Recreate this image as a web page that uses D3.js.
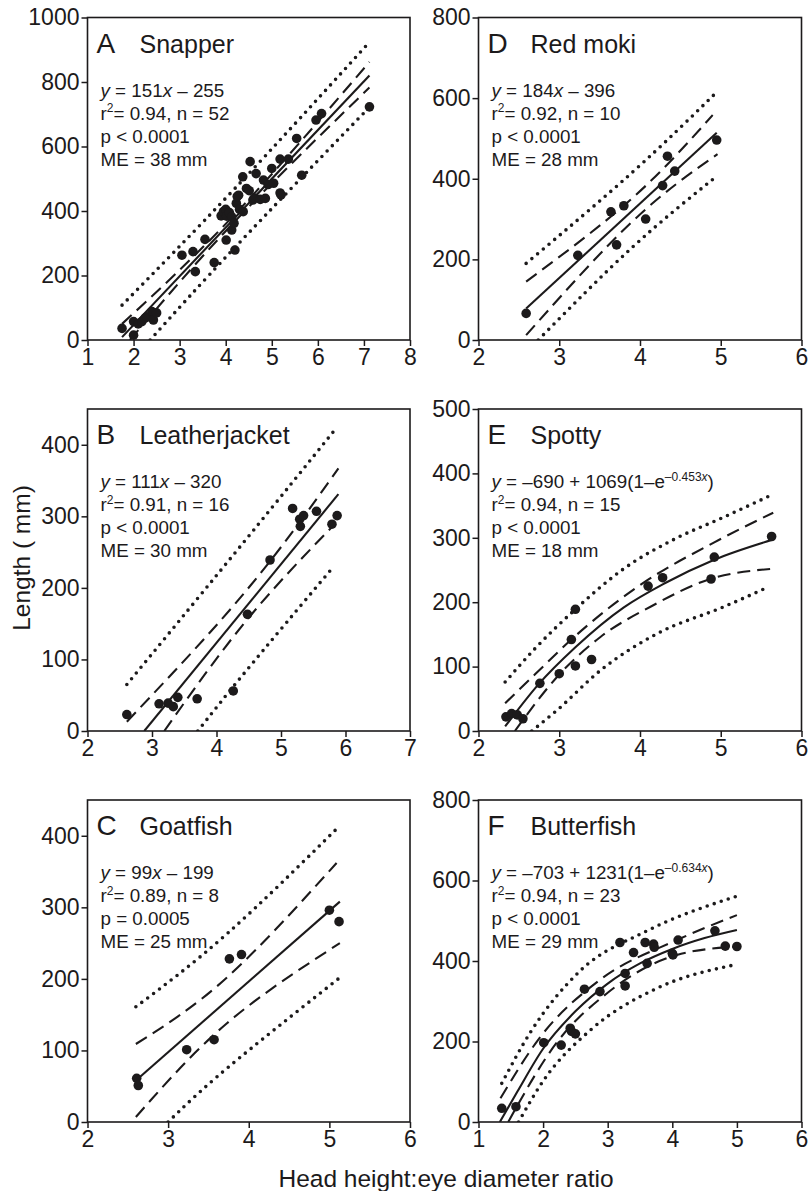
<!DOCTYPE html>
<html>
<head>
<meta charset="utf-8">
<script src="https://cdn.jsdelivr.net/npm/d3@7"></script>
<style>
  html, body { margin: 0; padding: 0; background: #fff; }
  svg { display: block; font-family: "Liberation Sans", Arial, Helvetica, sans-serif; }
</style>
</head>
<body>
<svg id="chart" width="809" height="1191"></svg>
<script>
// ---------------- DATA ----------------
// Panel A – Snapper
const pointsA = [[1.75,36],[2.0,57],[2.0,15],[2.1,50],[2.18,57],[2.25,68],[2.29,72],[2.40,88],[2.43,62],[2.50,84],
  [3.05,263],[3.29,274],[3.34,212],[3.55,312],[3.75,240],[3.9,385],[3.95,398],[4.0,405],[4.02,384],[4.01,310],
  [4.08,395],[4.13,382],[4.13,341],[4.18,362],[4.2,279],[4.23,424],[4.25,445],[4.28,449],[4.30,405],[4.37,506],
  [4.38,398],[4.45,470],[4.51,463],[4.53,553],[4.59,434],[4.62,440],[4.66,516],[4.75,436],[4.82,496],[4.86,439],
  [4.92,482],[5.0,532],[5.04,486],[5.18,456],[5.2,450],[5.18,561],[5.36,561],[5.54,625],[5.65,511],[5.96,682],
  [6.08,702],[7.12,723]];
const fitA     = [[1.75,9],[7.12,820]];
const ciUpperA = [[1.75,50],[4.2,390],[7.12,862]];
const ciLowerA = [[1.92,0],[4.2,368],[7.12,783]];
const piUpperA = [[1.75,108],[4.2,470],[7.13,925]];
const piLowerA = [[2.36,0],[4.2,287],[7.06,713]];
const xTicksA = [1,2,3,4,5,6,7,8];
const yTicksA = [0,200,400,600,800,1000];
const eqA = [["y","i"],[" = 151",""],["x","i"],[" – 255",""]];
const statsA = ["r²= 0.94, n = 52","p < 0.0001","ME = 38 mm"];

// Panel B – Leatherjacket
const pointsB = [[2.61,23],[3.11,38],[3.25,39],[3.33,34],[3.40,47],[3.70,45],[4.26,56],[4.48,163],[4.83,239],
  [5.18,311],[5.29,296],[5.30,286],[5.35,301],[5.55,307],[5.79,289],[5.87,301]];
const fitB     = [[2.88,0],[5.89,331]];
const ciUpperB = [[2.61,13],[4.46,196],[5.89,367]];
const ciLowerB = [[3.19,0],[4.46,154],[5.81,287]];
const piUpperB = [[2.61,65],[4.46,268],[5.81,418]];
const piLowerB = [[3.71,0],[4.46,84],[5.79,227]];
const xTicksB = [2,3,4,5,6,7];
const yTicksB = [0,100,200,300,400];
const eqB = [["y","i"],[" = 111",""],["x","i"],[" – 320",""]];
const statsB = ["r²= 0.91, n = 16","p < 0.0001","ME = 30 mm"];

// Panel C – Goatfish
const pointsC = [[2.61,61],[2.63,51],[3.23,101],[3.57,115],[3.76,228],[3.91,234],[5.00,296],[5.12,280]];
const fitC     = [[2.60,58],[5.13,308]];
const ciUpperC = [[2.60,109],[3.73,202],[5.09,362]];
const ciLowerC = [[2.60,7],[3.73,138],[5.13,250]];
const piUpperC = [[2.60,161],[3.73,263],[5.12,413]];
const piLowerC = [[3.0,0],[3.73,75],[5.11,200]];
const xTicksC = [2,3,4,5,6];
const yTicksC = [0,100,200,300,400];
const eqC = [["y","i"],[" = 99",""],["x","i"],[" – 199",""]];
const statsC = ["r²= 0.89, n = 8","p = 0.0005","ME = 25 mm"];

// Panel D – Red moki
const pointsD = [[2.59,66],[3.23,210],[3.64,318],[3.71,236],[3.80,333],[4.07,300],[4.28,383],[4.34,456],[4.43,419],[4.95,496]];
const fitD     = [[2.59,78],[4.95,514]];
const ciUpperD = [[2.59,145],[3.9,351],[4.90,558]];
const ciLowerD = [[2.59,12],[3.9,293],[4.96,461]];
const piUpperD = [[2.59,190],[3.9,415],[4.94,613]];
const piLowerD = [[2.74,0],[3.9,229],[4.93,403]];
const xTicksD = [2,3,4,5,6];
const yTicksD = [0,200,400,600,800];
const eqD = [["y","i"],[" = 184",""],["x","i"],[" – 396",""]];
const statsD = ["r²= 0.92, n = 10","p < 0.0001","ME = 28 mm"];

// Panel E – Spotty
const pointsE = [[2.34,22],[2.41,27],[2.48,25],[2.55,19],[2.76,74],[3.00,89],[3.15,142],[3.20,101],[3.20,189],
  [3.40,111],[4.10,225],[4.28,238],[4.88,236],[4.92,270],[5.63,302]];
const fitE     = [[2.33,7],[2.74,72],[3.2,130],[3.8,192],[4.3,229],[4.92,266],[5.64,297]];
const ciUpperE = [[2.33,43],[2.7,88],[3.15,142],[3.97,224],[4.92,293],[5.65,339]];
const ciLowerE = [[2.45,0],[3.01,89],[3.51,146],[4.13,193],[4.87,236],[5.64,252]];
const piUpperE = [[2.33,76],[2.7,128],[3.2,189],[3.8,252],[4.46,300],[5.0,330],[5.62,366]];
const piLowerE = [[2.66,0],[2.97,32],[3.51,94],[4.21,151],[5.04,193],[5.58,223]];
const xTicksE = [2,3,4,5,6];
const yTicksE = [0,100,200,300,400,500];
const eqE = [["y","i"],[" = –690 + 1069(1–e",""],["–0.453","sup"],["x","supi"],[")",""]];
const statsE = ["r²= 0.94, n = 15","p < 0.0001","ME = 18 mm"];

// Panel F – Butterfish
const pointsF = [[1.36,34],[1.58,38],[2.01,197],[2.28,191],[2.42,233],[2.44,225],[2.50,219],[2.64,330],[2.88,324],
  [3.19,446],[3.27,369],[3.27,338],[3.40,421],[3.58,446],[3.61,394],[3.71,442],[3.72,434],[4.00,419],
  [4.01,415],[4.09,452],[4.66,475],[4.82,437],[5.00,436]];
const fitF     = [[1.33,0],[1.6,75],[2.0,182],[2.5,275],[3.0,344],[3.5,394],[4.0,430],[4.5,457],[5.0,477]];
const ciUpperF = [[1.34,59],[1.96,212],[2.88,353],[4.07,452],[5.0,514]];
const ciLowerF = [[1.46,0],[2.21,197],[2.99,320],[4.07,415],[5.0,436]];
const piUpperF = [[1.36,96],[1.8,222],[2.57,375],[3.61,475],[5.0,561]];
const piLowerF = [[1.62,0],[2.01,104],[2.73,228],[3.76,332],[4.95,390]];
const xTicksF = [1,2,3,4,5,6];
const yTicksF = [0,200,400,600,800];
const eqF = [["y","i"],[" = –703 + 1231(1–e",""],["–0.634","sup"],["x","supi"],[")",""]];
const statsF = ["r²= 0.94, n = 23","p < 0.0001","ME = 29 mm"];

const xTitle = "Head height:eye diameter ratio";
const yTitle = "Length ( mm)";

// ---------------- LAYOUT ----------------
const colX = [[87.5, 410], [478.5, 801.5]];
const rowY = [[17.5, 340], [409, 731], [800, 1122]];
const ink = "#1c1a1b";

const panels = [
  {L:"A", name:"Snapper", c:0, r:0, xd:[1,8], yd:[0,1000], xt:xTicksA, yt:yTicksA, pts:pointsA, fit:fitA, ciU:ciUpperA, ciL:ciLowerA, piU:piUpperA, piL:piLowerA, eq:eqA, st:statsA, curve:false},
  {L:"B", name:"Leatherjacket", c:0, r:1, xd:[2,7], yd:[0,450], xt:xTicksB, yt:yTicksB, pts:pointsB, fit:fitB, ciU:ciUpperB, ciL:ciLowerB, piU:piUpperB, piL:piLowerB, eq:eqB, st:statsB, curve:false},
  {L:"C", name:"Goatfish", c:0, r:2, xd:[2,6], yd:[0,450], xt:xTicksC, yt:yTicksC, pts:pointsC, fit:fitC, ciU:ciUpperC, ciL:ciLowerC, piU:piUpperC, piL:piLowerC, eq:eqC, st:statsC, curve:false},
  {L:"D", name:"Red moki", c:1, r:0, xd:[2,6], yd:[0,800], xt:xTicksD, yt:yTicksD, pts:pointsD, fit:fitD, ciU:ciUpperD, ciL:ciLowerD, piU:piUpperD, piL:piLowerD, eq:eqD, st:statsD, curve:false},
  {L:"E", name:"Spotty", c:1, r:1, xd:[2,6], yd:[0,500], xt:xTicksE, yt:yTicksE, pts:pointsE, fit:fitE, ciU:ciUpperE, ciL:ciLowerE, piU:piUpperE, piL:piLowerE, eq:eqE, st:statsE, curve:true},
  {L:"F", name:"Butterfish", c:1, r:2, xd:[1,6], yd:[0,800], xt:xTicksF, yt:yTicksF, pts:pointsF, fit:fitF, ciU:ciUpperF, ciL:ciLowerF, piU:piUpperF, piL:piLowerF, eq:eqF, st:statsF, curve:true}
];

const svg = d3.select("#chart");
const defs = svg.append("defs");

function richText(sel, segs) {
  let raised = false;
  segs.forEach(([t, s]) => {
    const sup = s.indexOf("sup") >= 0;
    const ts = sel.append("tspan").text(t);
    if (sup && !raised) { ts.attr("dy", -7.5); raised = true; }
    else if (!sup && raised) { ts.attr("dy", 7.5); raised = false; }
    if (sup) ts.attr("font-size", 12);
    if (s.indexOf("i") >= 0) ts.attr("font-style", "italic");
  });
}

panels.forEach((p, i) => {
  const [x0, x1] = colX[p.c];
  const [y0, y1] = rowY[p.r];
  const x = d3.scaleLinear().domain(p.xd).range([x0, x1]);
  const y = d3.scaleLinear().domain(p.yd).range([y1, y0]);

  const g = svg.append("g");

  defs.append("clipPath").attr("id", "clip" + i)
    .append("rect").attr("x", x0).attr("y", y0).attr("width", x1 - x0).attr("height", y1 - y0);

  // axes
  const xa = g.append("g").attr("transform", `translate(0,${y1})`)
    .call(d3.axisBottom(x).tickValues(p.xt).tickFormat(d3.format("d")).tickSizeInner(6).tickSizeOuter(0).tickPadding(3));
  const ya = g.append("g").attr("transform", `translate(${x0},0)`)
    .call(d3.axisLeft(y).tickValues(p.yt).tickFormat(d3.format("d")).tickSizeInner(6).tickSizeOuter(0).tickPadding(2));
  [xa, ya].forEach(a => {
    a.selectAll("path").remove();
    a.selectAll("line").attr("stroke", ink).attr("stroke-width", 1.5);
    a.selectAll("text").attr("fill", ink).attr("font-size", 23).attr("font-family", "'Liberation Sans', Arial, sans-serif");
  });

  // frame
  g.append("rect").attr("x", x0).attr("y", y0).attr("width", x1 - x0).attr("height", y1 - y0)
    .attr("fill", "none").attr("stroke", ink).attr("stroke-width", 1.6);

  const plot = g.append("g").attr("clip-path", `url(#clip${i})`);
  const line = d3.line().x(d => x(d[0])).y(d => y(d[1]))
    .curve(p.curve ? d3.curveMonotoneX : d3.curveNatural);

  // prediction band (dotted)
  [p.piU, p.piL].forEach(arr => {
    plot.append("path").attr("d", line(arr)).attr("fill", "none").attr("stroke", ink)
      .attr("stroke-width", 3.6).attr("stroke-linecap", "round").attr("stroke-dasharray", "0,7.4");
  });
  // confidence band (dashed)
  [p.ciU, p.ciL].forEach(arr => {
    plot.append("path").attr("d", line(arr)).attr("fill", "none").attr("stroke", ink)
      .attr("stroke-width", 2.1).attr("stroke-dasharray", "13,7");
  });
  // fit (solid)
  plot.append("path").attr("d", line(p.fit)).attr("fill", "none").attr("stroke", ink).attr("stroke-width", 2.1);

  // points
  g.append("g").selectAll("circle").data(p.pts).join("circle")
    .attr("cx", d => x(d[0])).attr("cy", d => y(d[1])).attr("r", 4.8).attr("fill", ink);

  // panel letter and title
  g.append("text").attr("x", x0 + 9).attr("y", y0 + 35).attr("font-size", 28).attr("fill", ink).text(p.L);
  g.append("text").attr("x", x0 + 52).attr("y", y0 + 35).attr("font-size", 25).attr("fill", ink).text(p.name);

  // equation and stats
  const tx = x0 + 13, ty = y0 + 79;
  const eq = g.append("text").attr("x", tx).attr("y", ty).attr("font-size", 18.8).attr("fill", ink);
  richText(eq, p.eq);
  p.st.forEach((s, k) => {
    const t = g.append("text").attr("x", tx).attr("y", ty + 23 * (k + 1)).attr("font-size", 18.8).attr("fill", ink);
    if (s.startsWith("r²")) {
      richText(t, [["r",""],["2","sup"],[s.slice(2),""]]);
    } else {
      t.text(s);
    }
  });
});

// axis titles
svg.append("text").attr("x", 446).attr("y", 1187).attr("text-anchor", "middle")
  .attr("font-size", 24.5).attr("fill", ink).text(xTitle);
svg.append("text").attr("transform", "translate(30,558) rotate(-90)").attr("text-anchor", "middle")
  .attr("font-size", 24.5).attr("fill", ink).text(yTitle);
</script>
</body>
</html>
